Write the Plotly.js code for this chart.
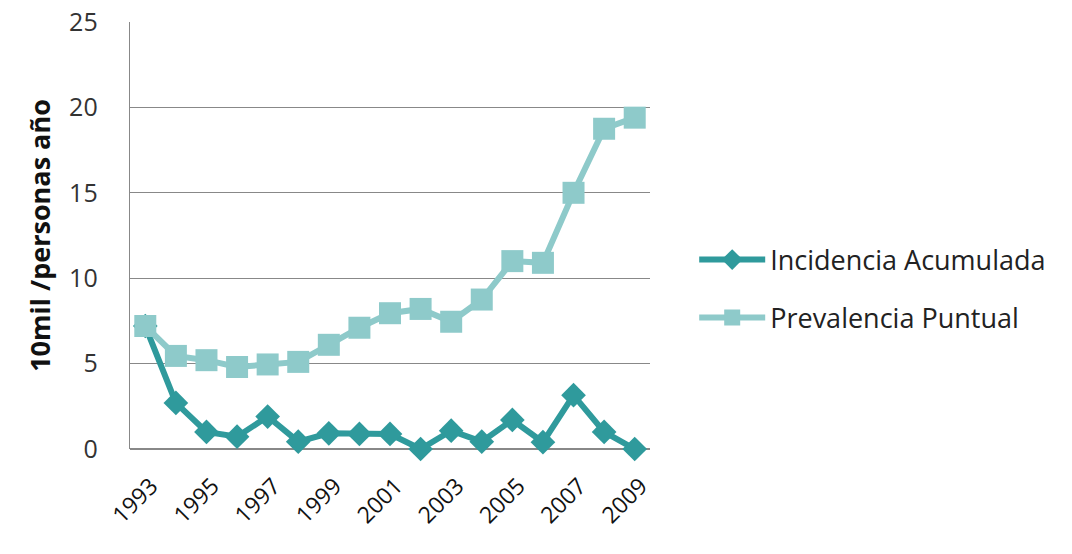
<!DOCTYPE html>
<html>
<head>
<meta charset="utf-8">
<script src="https://cdn.plot.ly/plotly-3.0.1.min.js"></script>
<style>html,body{margin:0;padding:0;background:#fff;}#chart{width:1072px;height:554px;}</style>
</head>
<body>
<div id="chart"></div>
<script>
const years = [1993,1994,1995,1996,1997,1998,1999,2000,2001,2002,2003,2004,2005,2006,2007,2008,2009];
const incidencia = [7.2,2.7,1.0,0.72,1.9,0.43,0.92,0.88,0.88,0.0,1.07,0.43,1.7,0.4,3.15,1.0,0.0];
const prevalencia = [7.2,5.45,5.2,4.8,4.95,5.1,6.1,7.1,7.95,8.2,7.45,8.75,11.0,10.9,15.0,18.75,19.4];
const yTicks = [0,5,10,15,20,25];
const xTicks = [1993,1995,1997,1999,2001,2003,2005,2007,2009];
const seriesNames = ['Incidencia Acumulada','Prevalencia Puntual'];

const font = 'Open Sans, Liberation Sans, Arial, sans-serif';
const traces = [
  {x: years, y: incidencia, name: seriesNames[0], type: 'scatter', mode: 'lines+markers',
   line: {color: '#2F9A9C', width: 6}, marker: {symbol: 'diamond', size: 19, color: '#2F9A9C'},
   cliponaxis: false, legend: 'legend'},
  {x: years, y: prevalencia, name: seriesNames[1], type: 'scatter', mode: 'lines+markers',
   line: {color: '#8ECACA', width: 6}, marker: {symbol: 'square', size: 22, color: '#8ECACA'},
   cliponaxis: false, legend: 'legend2'}
];
const legendCommon = {font: {family: font, size: 27, color: '#222'}, bgcolor: 'rgba(0,0,0,0)',
  xanchor: 'left', yanchor: 'middle', itemwidth: 66};
const layout = {
  width: 1072, height: 554,
  margin: {l: 130, r: 422, t: 22, b: 105},
  paper_bgcolor: '#fff', plot_bgcolor: '#fff',
  showlegend: true,
  legend: Object.assign({x: 1.085, y: (449-260)/427}, legendCommon),
  legend2: Object.assign({x: 1.085, y: (449-318)/427}, legendCommon),
  xaxis: {
    range: [1992.5, 2009.5], tickvals: xTicks, ticktext: xTicks.map(String),
    tickangle: -45, showgrid: false, zeroline: false, showline: false,
    ticks: '', ticklabelstandoff: 18, ticklabelshift: 6,
    tickfont: {family: font, size: 23, color: '#111'}
  },
  yaxis: {
    range: [0, 25], tickvals: yTicks, showgrid: true, gridcolor: '#888', gridwidth: 1.3,
    zeroline: true, zerolinecolor: '#888', zerolinewidth: 1.3,
    showline: true, linecolor: '#888', linewidth: 1.3,
    ticks: '', ticklabelstandoff: 26,
    tickfont: {family: font, size: 25, color: '#333'},
    title: {text: '<b>10mil /personas año</b>', font: {family: font, size: 27, color: '#111'}, standoff: 10}
  }
};
Plotly.newPlot('chart', traces, layout, {displayModeBar: false, staticPlot: true});
</script>
</body>
</html>
